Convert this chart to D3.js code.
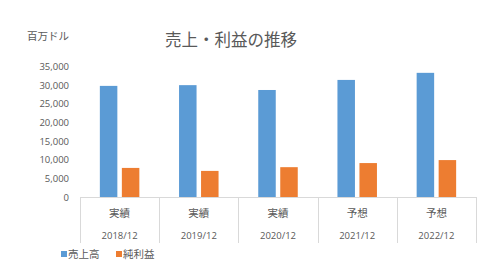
<!DOCTYPE html>
<html><head><meta charset="utf-8">
<script src="https://cdn.jsdelivr.net/npm/d3@7/dist/d3.min.js"></script>
<style>body{margin:0;background:#fff}svg{display:block}</style>
</head><body>
<script>
const years = ["2018/12","2019/12","2020/12","2021/12","2022/12"];
const types = ["実績","実績","実績","予想","予想"];
const sales = [29800, 30000, 28700, 31400, 33300];
const netIncome = [7800, 7000, 8000, 9100, 9900];
const yTicks = [0,5000,10000,15000,20000,25000,30000,35000];
const seriesNames = ["売上高","純利益"];
const colors = ["#5b9bd5","#ed7d31"];

(function(){
const W=494,H=271;
const font = "'Noto Sans CJK JP','Noto Sans',sans-serif";
const svg = d3.select("body").append("svg").attr("width",W).attr("height",H);
const pLeft=80,pRight=476,pTop=66.5,pBottom=197;
const x = d3.scaleBand().domain(years).range([pLeft,pRight]);
const y = d3.scaleLinear().domain([0,35000]).range([pBottom,pTop]);

svg.append("text").attr("x",165).attr("y",46).attr("fill","#595959")
  .attr("font-family",font).attr("font-size",16.5).text("売上・利益の推移");
svg.append("text").attr("x",27).attr("y",40).attr("fill","#595959")
  .attr("font-family",font).attr("font-size",10.5).text("百万ドル");

const yAxis = svg.append("g").attr("transform",`translate(${pLeft},0)`)
  .call(d3.axisLeft(y).tickValues(yTicks).tickSize(0).tickPadding(11).tickFormat(d3.format(",")));
yAxis.select(".domain").remove();
yAxis.selectAll("text").attr("fill","#595959").attr("font-family","'Open Sans','Noto Sans',sans-serif").attr("font-size",9.5);

const bw=17.5, gap=4.5;
const data = years.map((yr,i)=>({yr, vals:[sales[i],netIncome[i]]}));
const g = svg.append("g");
data.forEach(d=>{
  const c = x(d.yr)+x.bandwidth()/2;
  d.vals.forEach((v,j)=>{
    const x0 = j===0 ? c-gap/2-bw : c+gap/2;
    g.append("rect").attr("x",x0).attr("y",y(v)).attr("width",bw).attr("height",y(0)-y(v)).attr("fill",colors[j]);
  });
});

const ax = svg.append("g");
ax.append("line").attr("x1",pLeft).attr("x2",pRight).attr("y1",pBottom+0.5).attr("y2",pBottom+0.5).attr("stroke","#d9d9d9");
const edges = years.map(yv=>x(yv)).concat([pRight]);
edges.forEach(ex=>{
  const xx=Math.round(ex)+0.5;
  ax.append("line").attr("x1",xx).attr("x2",xx).attr("y1",pBottom).attr("y2",243).attr("stroke","#d9d9d9");
});
years.forEach((yr,i)=>{
  const c = x(yr)+x.bandwidth()/2;
  ax.append("text").attr("x",c).attr("y",216.5).attr("text-anchor","middle").attr("fill","#595959")
    .attr("font-family",font).attr("font-size",10.5).text(types[i]);
  ax.append("text").attr("x",c).attr("y",239).attr("text-anchor","middle").attr("fill","#595959")
    .attr("font-family","'Open Sans','Noto Sans',sans-serif").attr("font-size",9.5).text(yr);
});

const lg = svg.append("g");
const lx=[61,116];
seriesNames.forEach((n,i)=>{
  lg.append("rect").attr("x",lx[i]).attr("y",251).attr("width",6).attr("height",6).attr("fill",colors[i]);
  lg.append("text").attr("x",lx[i]+7).attr("y",258).attr("fill","#595959")
    .attr("font-family",font).attr("font-size",10.5).text(n);
});
})();
</script>
</body></html>
